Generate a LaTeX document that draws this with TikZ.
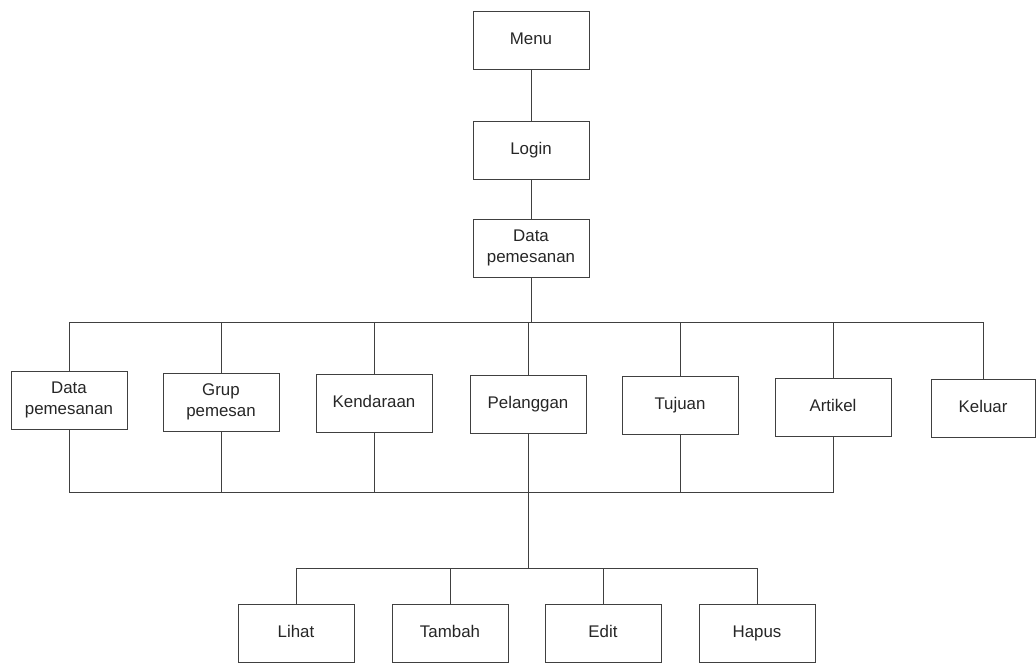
\documentclass[tikz,border=0pt]{standalone}
\usepackage{fontspec}
\setmainfont{Liberation Sans}
\begin{document}
\begin{tikzpicture}[x=0.025cm,y=-0.025cm,
	dasarbox/.style={draw,rectangle,minimum width=2.9cm,minimum height=1.45cm,align=center,color=black!75,line width=0.6pt,text=black!85,font=\fontsize{12}{14.5}\selectfont},
	menubox/.style={dasarbox,text height=1.5ex,text depth=.3ex},
	garis/.style={-,color=black!75,line width=0.6pt}]
	\useasboundingbox (0,0) rectangle (1036,665);
	\node[menubox] (menu) at (531,40){Menu};
	\node[menubox] (login) at (531,150){Login};
	\node[dasarbox] (data) at (531,248){Data\\pemesanan};
	\node[dasarbox] (dp) at (69,400){Data\\pemesanan};
	\node[dasarbox] (grup) at (221,402){Grup\\pemesan};
	\node[menubox] (kend) at (374,403){Kendaraan};
	\node[menubox] (pel) at (528,404){Pelanggan};
	\node[menubox] (tuj) at (680,405){Tujuan};
	\node[menubox] (art) at (833,407){Artikel};
	\node[menubox,minimum width=2.6cm] (kel) at (983,408){Keluar};
	\node[menubox] (lihat) at (296,633){Lihat};
	\node[menubox] (tambah) at (450,633){Tambah};
	\node[menubox] (edit) at (603,633){Edit};
	\node[menubox] (hapus) at (757,633){Hapus};
	\coordinate (bt) at (531,322);
	\coordinate (bb) at (528,492);
	\coordinate (bc) at (528,568);
	\draw[garis] (menu) -- (login);
	\draw[garis] (login) -- (data);
	\draw[garis] (data) -- (bt);
	\draw[garis] (bt) -| (dp);
	\draw[garis] (bt) -| (grup);
	\draw[garis] (bt) -| (kend);
	\draw[garis] (bt) -| (pel);
	\draw[garis] (bt) -| (tuj);
	\draw[garis] (bt) -| (art);
	\draw[garis] (bt) -| (kel);
	\draw[garis] (dp) |- (bb);
	\draw[garis] (grup) |- (bb);
	\draw[garis] (kend) |- (bb);
	\draw[garis] (pel) -- (bb);
	\draw[garis] (tuj) |- (bb);
	\draw[garis] (art) |- (bb);
	\draw[garis] (bb) -- (bc);
	\draw[garis] (bc) -| (lihat);
	\draw[garis] (bc) -| (tambah);
	\draw[garis] (bc) -| (edit);
	\draw[garis] (bc) -| (hapus);
\end{tikzpicture}
\end{document}
